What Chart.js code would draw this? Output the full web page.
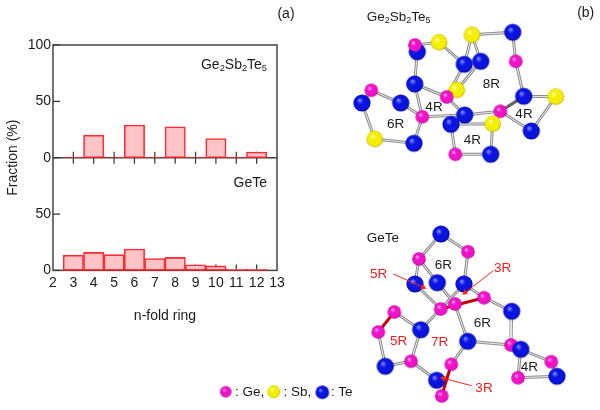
<!DOCTYPE html>
<html><head><meta charset="utf-8">
<script src="https://cdn.jsdelivr.net/npm/chart.js@4/dist/chart.umd.min.js"></script>
<style>
html,body{margin:0;padding:0;background:#fff;width:600px;height:410px;overflow:hidden}
canvas{position:absolute;left:0;top:0}
.t{position:absolute;font:13.5px "Liberation Sans",Arial,sans-serif;color:#1a1a1a;white-space:nowrap;transform:translate(-50%,-50%);line-height:1}
.r{color:#f01c1c}
.l{transform:translate(0,-50%)}
.e{transform:translate(-100%,-50%)}
sub{font-size:.66em;line-height:0;vertical-align:-0.25em}
</style></head><body>
<canvas id="plot" width="300" height="345"></canvas>
<canvas id="mol" width="600" height="410"></canvas>
<script>
// ---- histogram data
const ringSizes = [3,4,5,6,7,8,9,10,11,12];
const gstFraction = [0,20,0,29,0,27.5,0,17,0,5];
const geteFraction = [13.5,16,14,19,10.5,11.5,5,4,1,1];
const baselineX = [2.5,12.5];
const baselineY = [0,0];
const xMin = 2, xMax = 13, yMin = 0, yMax = 100;

// ---- structure models: atoms (0 Ge, 1 Sb, 2 Te), in a 600x410 scene
const gstX = [417.3,415,439,472,512.7,515.7,480.7,464.3,414.7,456.7,446.7,371.3,362,400.7,422.3,451,464.7,500.3,523.7,555.7,531.3,492.7,374.7,414,455.3,490.7];
const gstY = [51.7,45,42.3,34.7,32.3,61.3,61.3,64.3,84,90,97,90.3,103,103,116.7,124.3,115,111.3,96.3,96.7,131,123.7,139,143.3,154.3,154.3];
const gstKind = [2,0,1,1,2,0,2,2,2,1,0,0,2,2,0,2,2,0,2,1,2,1,1,2,0,2];
const gstBonds = [[0,8],[1,2],[2,7],[3,4],[3,7],[3,6],[4,5],[5,18],[18,19],[19,20],[20,17],[17,16],[16,14],[14,8],[14,13],[13,11],[11,12],[12,22],[22,23],[23,14],[8,10],[10,16],[7,10],[6,9],[15,21],[15,24],[24,25],[25,21],[15,16]];
const gstDarkBonds = [[17,18]];

const geteX = [441,419,468,415,437.3,464,484,440.7,455,511.7,394.3,378.3,420.7,467.7,411,385.3,451.3,436.7,441.7,511,520.7,551.3,557,518];
const geteY = [234,259,251.7,284,282.7,284,297.7,309,304,311.3,312,332,329.7,341.3,361.3,366.3,364.3,380.3,396,345,349.3,361.7,376.3,377.7];
const geteKind = [2,0,0,2,2,2,0,0,0,2,0,0,2,2,0,2,0,2,0,0,2,0,2,0];
const geteBonds = [[0,1],[0,2],[1,3],[1,4],[2,5],[5,6],[3,7],[4,8],[5,7],[7,12],[8,13],[6,9],[9,19],[13,19],[13,16],[17,14],[14,12],[14,15],[15,11],[10,12],[20,21],[21,22],[22,23],[23,20],[19,20]];
const geteRedBonds = [[7,6],[10,11],[16,18]];

const arrowsX = [[393.3,423.3],[493.3,465],[471.7,443.3]];
const arrowsY = [[274,287.3],[270.7,292.7],[385.7,378.3]];

const legendX = [225.7,273.7,322.3];
const legendY = [391.7,391.7,392.3];
const legendKind = [3,4,5];

const kindColors = [['#ff9ce8','#f012c8','#a8008a'],['#ffffb0','#f4ee00','#b0a800'],['#8088ff','#0a14e0','#00007a'],['#ff9ce8','#f012c8','#a8008a'],['#ffffb0','#f4ee00','#b0a800'],['#8088ff','#0a14e0','#00007a']];
const kindRadius = [6.8,8.3,8.6,5.8,6.5,6.8];

// ---- histogram
const panelFrame = {
  id:'panelFrame',
  beforeDatasetsDraw(c){
    const g=c.ctx, a=c.chartArea, x=c.scales.x, yt=c.scales.yTop, yb=c.scales.yBot;
    g.save();
    g.strokeStyle='#444'; g.lineWidth=1.5;
    g.strokeRect(a.left,a.top,a.right-a.left,a.bottom-a.top);
    const mid=yt.getPixelForValue(yMin);
    g.beginPath(); g.moveTo(a.left,mid); g.lineTo(a.right,mid); g.stroke();
    g.strokeStyle='#333'; g.lineWidth=1.2; g.beginPath();
    [yt,yb].forEach(s=>s.ticks.forEach(t=>{
      const p=s.getPixelForValue(t.value), len=t.value%50===0?7:4;
      g.moveTo(a.left,p); g.lineTo(a.left+len,p);
    }));
    x.ticks.forEach(t=>{
      if(t.value===xMin||t.value===xMax) return;
      const p=x.getPixelForValue(t.value);
      g.moveTo(p,mid-6); g.lineTo(p,mid+6);
      g.moveTo(p,a.bottom); g.lineTo(p,a.bottom-6);
    });
    g.stroke(); g.restore();
  }
};
const pairs=(xs,ys)=>xs.map((v,i)=>({x:v,y:ys[i]}));
const barStyle={backgroundColor:'#ffc4c6',borderColor:'#ff2a34',borderWidth:1.6,borderSkipped:false,barPercentage:1,categoryPercentage:1,grouped:false};
const baselineStyle={type:'line',borderColor:'#f01c24',borderWidth:1.6,pointRadius:0};
new Chart(document.getElementById('plot'),{
  type:'bar',
  data:{datasets:[
    {...baselineStyle,data:pairs(baselineX,baselineY),yAxisID:'yTop'},
    {...baselineStyle,data:pairs(baselineX,baselineY),yAxisID:'yBot'},
    {...barStyle,data:pairs(ringSizes,gstFraction),yAxisID:'yTop'},
    {...barStyle,data:pairs(ringSizes,geteFraction),yAxisID:'yBot'}
  ]},
  plugins:[panelFrame],
  options:{
    responsive:false,animation:false,devicePixelRatio:1,
    layout:{autoPadding:false,padding:{left:0,top:45,right:23,bottom:20}},
    plugins:{legend:{display:false},tooltip:{enabled:false}},
    font:{family:'"Liberation Sans"'},
    scales:{
      x:{type:'linear',min:xMin,max:xMax,offset:false,
        grid:{display:false,drawTicks:false},border:{display:false},
        ticks:{stepSize:1,autoSkip:false,maxRotation:0,padding:4,color:'#1a1a1a',font:{family:'"Liberation Sans"',size:14},callback:v=>v},
        title:{display:true,text:'n-fold ring',color:'#1a1a1a',font:{family:'"Liberation Sans"',size:14},padding:{top:13,bottom:0}}},
      yTop:{type:'linear',position:'left',stack:'panels',stackWeight:1,weight:2,min:yMin,max:yMax,
        grid:{display:false,drawTicks:false},border:{display:false},
        afterFit(s){s.width=28},
        ticks:{stepSize:25,padding:2,color:'#1a1a1a',font:{family:'"Liberation Sans"',size:14},callback:v=>v%50===0?v:''}},
      yBot:{type:'linear',position:'left',stack:'panels',stackWeight:1,weight:1,min:yMin,max:yMax,
        grid:{display:false,drawTicks:false},border:{display:false},
        afterFit(s){s.width=28},
        ticks:{stepSize:25,padding:2,color:'#1a1a1a',font:{family:'"Liberation Sans"',size:14},callback:v=>(v%50===0&&v!==yMax)?v:''}},
      yTitle:{type:'linear',position:'left',weight:10,min:yMin,max:yMax,
        grid:{display:false,drawTicks:false},border:{display:false},
        ticks:{display:false},
        afterFit(s){s.width=25},
        title:{display:true,text:'Fraction (%)',color:'#1a1a1a',font:{family:'"Liberation Sans"',size:14},padding:{top:5,bottom:0}}}
    }
  }
});

// ---- structure models
function sphere(kind,r){
  const c=document.createElement('canvas'), s=Math.ceil(r*2)+2;
  c.width=c.height=s;
  const g=c.getContext('2d'), m=s/2, col=kindColors[kind];
  const gr=g.createRadialGradient(m-r*.3,m-r*.35,r*.05,m,m,r);
  gr.addColorStop(0,col[0]); gr.addColorStop(.35,col[1]); gr.addColorStop(.85,col[1]); gr.addColorStop(1,col[2]);
  g.fillStyle=gr; g.beginPath(); g.arc(m,m,r,0,Math.PI*2); g.fill();
  return c;
}
const sprites=kindColors.map((_,k)=>sphere(k,kindRadius[k]));
const atomSet=(xs,ys,ks)=>({data:pairs(xs,ys),showLine:false,clip:false,
  pointStyle:ctx=>sprites[ks[ctx.dataIndex]],pointRadius:9,pointBorderWidth:0});
const bondPts=(xs,ys,list)=>list.flatMap(([a,b])=>[{x:xs[a],y:ys[a]},{x:xs[b],y:ys[b]},{x:null,y:null}]);
const bondSet=(xs,ys,list,color,w)=>({data:bondPts(xs,ys,list),showLine:true,spanGaps:false,borderColor:color,borderWidth:w,pointRadius:0,clip:false});
const arrowSet=(xs,ys)=>({data:pairs(xs,ys),showLine:true,borderColor:'#f22',borderWidth:1,clip:false,
  pointRadius:[0,3.5],pointStyle:'triangle',pointBackgroundColor:'#f22',pointBorderWidth:0,
  pointRotation:Math.atan2(xs[1]-xs[0],ys[0]-ys[1])*180/Math.PI});
new Chart(document.getElementById('mol'),{
  type:'scatter',
  data:{datasets:[
    arrowSet(arrowsX[0],arrowsY[0]),arrowSet(arrowsX[1],arrowsY[1]),arrowSet(arrowsX[2],arrowsY[2]),
    atomSet(legendX,legendY,legendKind),
    atomSet(gstX,gstY,gstKind),
    atomSet(geteX,geteY,geteKind),
    bondSet(geteX,geteY,geteRedBonds,'#c00010',3),
    bondSet(gstX,gstY,gstDarkBonds,'#666',3.2),
    bondSet(gstX,gstY,gstBonds,'#ececec',1),
    bondSet(geteX,geteY,geteBonds,'#ececec',1),
    bondSet(gstX,gstY,gstBonds,'#8c8c8c',3),
    bondSet(geteX,geteY,geteBonds,'#8c8c8c',3)
  ]},
  options:{
    responsive:false,animation:false,devicePixelRatio:1,
    layout:{autoPadding:false,padding:0},
    plugins:{legend:{display:false},tooltip:{enabled:false}},
    scales:{x:{type:'linear',display:false,min:0,max:600},y:{type:'linear',display:false,min:0,max:410,reverse:true}}
  }
});
</script>
<div class="t" style="left:286px;top:13px;font-size:14px">(a)</div>
<div class="t" style="left:585.7px;top:12px;font-size:14px">(b)</div>
<div class="t e" style="left:267px;top:64px;font-size:14px">Ge<sub>2</sub>Sb<sub>2</sub>Te<sub>5</sub></div>
<div class="t e" style="left:267px;top:182px;font-size:14px">GeTe</div>
<div class="t l" style="left:366.7px;top:17.3px">Ge<sub>2</sub>Sb<sub>2</sub>Te<sub>5</sub></div>
<div class="t l" style="left:366.7px;top:238.3px">GeTe</div>
<div class="t" style="left:395.7px;top:124px">6R</div>
<div class="t" style="left:434px;top:107.3px">4R</div>
<div class="t" style="left:491.3px;top:84px">8R</div>
<div class="t" style="left:472.3px;top:140px">4R</div>
<div class="t" style="left:524px;top:114px">4R</div>
<div class="t r" style="left:378.7px;top:274.3px">5R</div>
<div class="t" style="left:443.3px;top:265px">6R</div>
<div class="t r" style="left:502.7px;top:268.3px">3R</div>
<div class="t" style="left:482.3px;top:323.3px">6R</div>
<div class="t r" style="left:398.7px;top:341px">5R</div>
<div class="t r" style="left:439.7px;top:341.7px">7R</div>
<div class="t" style="left:529.3px;top:367px">4R</div>
<div class="t r" style="left:484px;top:388.3px">3R</div>
<div class="t l" style="left:235px;top:392px">: Ge,</div>
<div class="t l" style="left:283.5px;top:392px">: Sb,</div>
<div class="t l" style="left:331px;top:392px">: Te</div>
</body></html>
